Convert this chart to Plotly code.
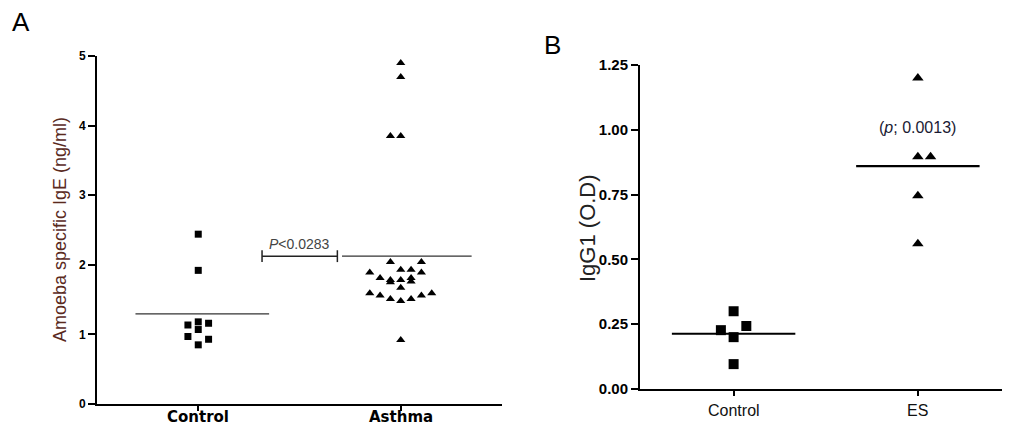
import numpy as np
import plotly.graph_objects as go

# ---------------- data ----------------
# Panel A: Amoeba specific IgE (ng/ml)
a_categories = ["Control", "Asthma"]
a_control_values = [2.44, 1.92, 1.135, 1.18, 1.16, 1.07, 0.97, 0.93, 0.85]
a_control_column = [0, 0, -1, 0, 1, 0, -1, 1, 0]
a_asthma_values = [4.90, 4.70, 3.85, 3.85,
                   2.04, 2.04, 1.93, 1.93, 1.89, 1.89, 1.81, 1.78, 1.75, 1.78,
                   1.81, 1.76, 1.67, 1.59, 1.56, 1.51, 1.48, 1.51, 1.56, 1.59, 0.92]
a_asthma_column = [0, 0, -1, 0,
                   -1, 2, 0, 1, 2, -3, -2, -1, -1, 0,
                   1, 1, 0, -3, -2, -1, 0, 1, 2, 3, 0]
a_yticks = [0, 1, 2, 3, 4, 5]
a_pvalue_text = "<i>P</i><0.0283"

# Panel B: IgG1 (O.D)
b_categories = ["Control", "ES"]
b_control_values = [0.30, 0.227, 0.243, 0.20, 0.096]
b_control_column = [0, -1, 1, 0, 0]
b_es_values = [1.20, 0.896, 0.896, 0.746, 0.56]
b_es_column = [0, 0, 1, 0, 0]
b_yticks = [0.00, 0.25, 0.50, 0.75, 1.00, 1.25]
b_ytick_text = ["0.00", "0.25", "0.50", "0.75", "1.00", "1.25"]
b_pvalue_text = "(<i>p</i>; 0.0013)"

# ---------------- style ----------------
OFF = 8                      # page body margin
W, H = 1010 - OFF, 425 - OFF
A_COL_STEP = 0.051
B_COL_STEP = 0.069
FONT = "Liberation Sans, Arial, sans-serif"
WIDE_BOLD = "DejaVu Sans, Liberation Sans, Arial, sans-serif"

def px(x):
    return (x - OFF) / W

def py(y):
    return (H - (y - OFF)) / H

fig = go.Figure()

def add_points(xaxis, yaxis, cat_idx, values, cols, step, symbol, size):
    xs = [cat_idx + c * step for c in cols]
    fig.add_trace(go.Scatter(
        x=xs, y=values, mode="markers", xaxis=xaxis, yaxis=yaxis,
        marker=dict(symbol=symbol, size=size, color="black", line=dict(width=0)),
        showlegend=False, hoverinfo="y"))

def add_mean(xaxis, yaxis, cat_idx, values, left, right, width, color):
    m = float(np.mean(values))
    fig.add_trace(go.Scatter(
        x=[cat_idx - left, cat_idx + right], y=[m, m], mode="lines",
        xaxis=xaxis, yaxis=yaxis, line=dict(color=color, width=width),
        showlegend=False, hoverinfo="skip"))
    return m

# Panel A
add_points("x", "y", 0, a_control_values, a_control_column, A_COL_STEP, "square", 7)
add_points("x", "y", 1, a_asthma_values, a_asthma_column, A_COL_STEP, "triangle-up", 8)
add_mean("x", "y", 0, a_control_values, 0.31, 0.35, 1.3, "#333333")
a_mean_asthma = add_mean("x", "y", 1, a_asthma_values, 0.29, 0.35, 1.3, "#333333")

# p-value bracket in A (at the asthma mean level)
br_left, br_right, cap = 0.315, 0.687, 0.085
fig.add_trace(go.Scatter(
    x=[br_left, br_right], y=[a_mean_asthma, a_mean_asthma], mode="lines",
    xaxis="x", yaxis="y", line=dict(color="#222222", width=1.5),
    showlegend=False, hoverinfo="skip"))
for bx in (br_left, br_right):
    fig.add_trace(go.Scatter(
        x=[bx, bx], y=[a_mean_asthma - cap, a_mean_asthma + cap], mode="lines",
        xaxis="x", yaxis="y", line=dict(color="#222222", width=1.5),
        showlegend=False, hoverinfo="skip"))
fig.add_annotation(x=(br_left + br_right) / 2, y=a_mean_asthma + 0.17, xref="x", yref="y",
                   text=a_pvalue_text, showarrow=False, yanchor="middle",
                   font=dict(family=FONT, size=14, color="#444444"))

# Panel B
add_points("x2", "y2", 0, b_control_values, b_control_column, B_COL_STEP, "square", 10)
add_points("x2", "y2", 1, b_es_values, b_es_column, B_COL_STEP, "triangle-up", 10)
add_mean("x2", "y2", 0, b_control_values, 0.335, 0.335, 2.2, "black")
add_mean("x2", "y2", 1, b_es_values, 0.335, 0.335, 2.2, "black")
fig.add_annotation(x=1, y=1.01, xref="x2", yref="y2", text=b_pvalue_text,
                   showarrow=False, font=dict(family=FONT, size=16, color="#1a1a33"))

axis_common = dict(showline=True, linecolor="black", linewidth=2, ticks="outside",
                   ticklen=7, tickwidth=2, tickcolor="black", showgrid=False,
                   zeroline=False, fixedrange=True, automargin=False)

fig.update_layout(
    width=W, height=H, margin=dict(l=0, r=0, t=0, b=0, pad=0, autoexpand=False),
    paper_bgcolor="white", plot_bgcolor="white",
    xaxis=dict(axis_common, domain=[px(97), px(502)], range=[-0.5, 1.5],
               tickvals=[0, 1], showticklabels=False, anchor="y", ticklen=5),
    yaxis=dict(axis_common, domain=[py(404), py(56)], range=[0, 5],
               tickvals=a_yticks, anchor="x",
               tickfont=dict(family=FONT, size=12, color="black", weight="bold")),
    xaxis2=dict(axis_common, domain=[px(640), 1.0], range=[-0.508, 1.5],
                tickvals=[0, 1], showticklabels=False, anchor="y2", ticklen=5),
    yaxis2=dict(axis_common, domain=[py(389), py(65)], range=[0, 1.25],
                tickvals=b_yticks, ticktext=b_ytick_text, anchor="x2",
                tickfont=dict(family=FONT, size=15, color="black", weight="bold")),
)

# category labels
for i, lab in enumerate(a_categories):
    fig.add_annotation(x=i, y=py(417), xref="x", yref="paper", text=lab,
                       showarrow=False, yanchor="middle", xanchor="center",
                       font=dict(family=WIDE_BOLD, size=15, color="black", weight="bold"))
for i, lab in enumerate(b_categories):
    fig.add_annotation(x=i, y=py(410), xref="x2", yref="paper", text=lab,
                       showarrow=False, yanchor="middle", xanchor="center",
                       font=dict(family=FONT, size=16, color="#111111"))

# axis titles and panel letters
fig.add_annotation(x=px(60), y=py(230), xref="paper", yref="paper",
                   text="Amoeba specific IgE (ng/ml)", textangle=-90, showarrow=False,
                   xanchor="center", yanchor="middle",
                   font=dict(family=FONT, size=18, color="#5a2a1e"))
fig.add_annotation(x=px(587), y=py(228), xref="paper", yref="paper",
                   text="IgG1 (O.D)", textangle=-90, showarrow=False,
                   xanchor="center", yanchor="middle",
                   font=dict(family=FONT, size=22, color="#222222"))
fig.add_annotation(x=px(21), y=py(22), xref="paper", yref="paper",
                   text="A", showarrow=False, xanchor="center", yanchor="middle",
                   font=dict(family=FONT, size=26, color="black"))
fig.add_annotation(x=px(552), y=py(45), xref="paper", yref="paper",
                   text="B", showarrow=False, xanchor="center", yanchor="middle",
                   font=dict(family=FONT, size=26, color="black"))

fig.write_html("out.html")
